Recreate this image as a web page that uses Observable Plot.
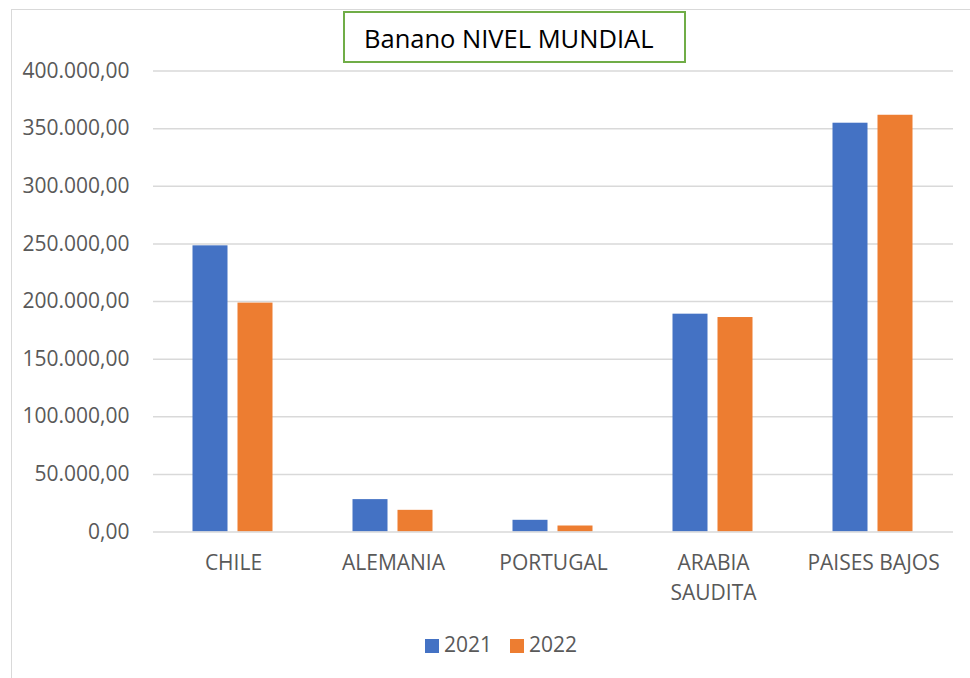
<!DOCTYPE html>
<html><head><meta charset="utf-8">
<script src="https://cdn.jsdelivr.net/npm/d3@7"></script>
<script src="https://cdn.jsdelivr.net/npm/@observablehq/plot@0.6"></script>
<style>
html,body{margin:0;padding:0;background:#fff;}
#wrap{position:relative;width:970px;height:678px;overflow:hidden;font-family:"Open Sans",sans-serif;}
#frame{position:absolute;left:11px;top:8.5px;width:1000px;height:700px;border:1.5px solid #d9d9d9;box-sizing:border-box;}
#chart{position:absolute;left:0;top:0;}
#titlebox{position:absolute;left:343px;top:10.5px;width:343px;height:52px;border:2.5px solid #70ad47;box-sizing:border-box;background:#fff;}
#title{position:absolute;left:364px;top:25.7px;font-size:25.5px;line-height:1;color:#000;white-space:nowrap;}
.sw{position:absolute;width:14px;height:14px;top:639px;}
.lt{position:absolute;top:634px;font-size:21px;line-height:1;color:#595959;}
</style>
</head><body>
<div id="wrap">
<div id="frame"></div>
<div id="chart"></div>
<div id="titlebox"></div>
<div id="title">Banano NIVEL MUNDIAL</div>
<div id="legend"></div>
</div>
<script>
const countries = ["CHILE","ALEMANIA","PORTUGAL","ARABIA SAUDITA","PAISES BAJOS"];
const countryLabels = ["CHILE","ALEMANIA","PORTUGAL","ARABIA\nSAUDITA","PAISES BAJOS"];
const years = ["2021","2022"];
const values2021 = [248300, 28100, 10150, 189000, 354700];
const values2022 = [198600, 18800, 5200, 186100, 361600];
const yTicks = [0,50000,100000,150000,200000,250000,300000,350000,400000];
const colors = ["#4472C4","#ED7D31"];

const data = countries.flatMap((c,i)=>[
  {country:c, year:years[0], value:values2021[i]},
  {country:c, year:years[1], value:values2022[i]}
]);
const fmt = d3.formatLocale({decimal:",", thousands:".", grouping:[3], currency:["",""]}).format(",.2f");

const chart = Plot.plot({
  width:970, height:620,
  marginLeft:152.5, marginRight:17.5, marginTop:70.5, marginBottom:88.5,
  style:{fontFamily:"'Open Sans', sans-serif", fontSize:"21px", color:"#595959", background:"transparent", overflow:"visible"},
  fx:{domain:countries, padding:0, label:null},
  x:{domain:years, paddingInner:0.212, paddingOuter:0.872, align:0.5, axis:null},
  y:{domain:[0,400000], label:null},
  color:{domain:years, range:colors},
  marks:[
    Plot.ruleY(yTicks.slice(1), {stroke:"#d9d9d9", strokeWidth:1.5}),
    Plot.barY(data, {fx:"country", x:"year", y:"value", fill:"year"}),
    Plot.ruleY([0], {stroke:"#d9d9d9", strokeWidth:1.5}),
    Plot.axisY({ticks:yTicks, tickFormat:fmt, tickSize:0, tickPadding:24, label:null, fontSize:21}),
    Plot.axisFx({anchor:"bottom", tickSize:0, tickPadding:16.5, label:null, fontSize:21, lineHeight:1.43,
      tickFormat: d => countryLabels[countries.indexOf(d)]})
  ]
});
document.getElementById("chart").appendChild(chart);

const legend = document.getElementById("legend");
const swLeft = [425, 510], txLeft = [444, 529];
years.forEach((y,i)=>{
  const s = document.createElement("div");
  s.className = "sw"; s.style.left = swLeft[i]+"px"; s.style.background = colors[i];
  legend.appendChild(s);
  const t = document.createElement("div");
  t.className = "lt"; t.style.left = txLeft[i]+"px"; t.textContent = y;
  legend.appendChild(t);
});
</script>
</body></html>
